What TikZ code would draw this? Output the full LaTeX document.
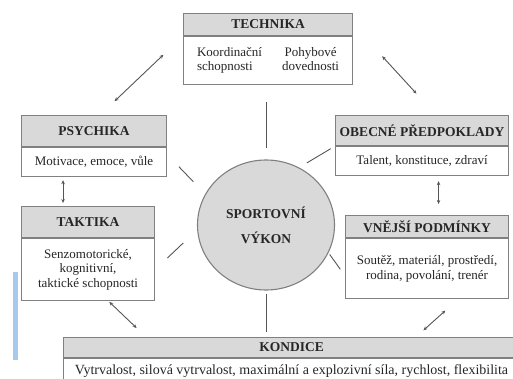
\documentclass[tikz,border=0pt]{standalone}
\usepackage{fontspec}
\setmainfont{Liberation Serif}
\usepackage{tikz}
\usetikzlibrary{shapes.geometric, arrows.meta, positioning}
\definecolor{FrameGray}{HTML}{808080}
\definecolor{HeadGray}{HTML}{D9D9D9}
\definecolor{LineGray}{HTML}{555555}
\definecolor{InkGray}{HTML}{262626}
\definecolor{MarkBlue}{HTML}{A9C8EE}

\begin{document}
\begin{tikzpicture}[
    x=1pt, y=-1pt,
    head/.style={rectangle, draw=FrameGray, line width=1.1pt, fill=HeadGray, inner sep=0pt,
                 font=\fontsize{13.5}{14.5}\selectfont\bfseries, text=InkGray},
    body/.style={rectangle, draw=FrameGray, line width=1.1pt, fill=white, inner sep=0pt,
                 font=\fontsize{13}{14.5}\selectfont, text=InkGray, align=center},
    hub/.style={ellipse, draw=FrameGray, line width=1.1pt, fill=HeadGray, inner sep=0pt,
                minimum width=137pt, minimum height=130pt, text=InkGray, align=center,
                font=\fontsize{13.5}{25}\selectfont\bfseries},
    link/.style={LineGray, line width=0.9pt},
    pair/.style={LineGray, line width=0.9pt,
                 {Stealth[length=4pt,width=3.5pt]}-{Stealth[length=4pt,width=3.5pt]}}
]
    \useasboundingbox (0,0) rectangle (513,379);
    \fill[MarkBlue] (13,272) rectangle (18,360);

    % Technika
    \node[head, anchor=north west, minimum width=169pt, minimum height=22pt] (techh) at (183,13) {TECHNIKA};
    \node[body, below=0pt of techh, minimum width=169pt, minimum height=48pt] (techb) {%
        \begin{tabular}{@{}l@{\hspace{20pt}}c@{}}
        Koordinační & Pohybové\\
        schopnosti & dovednosti
        \end{tabular}};

    % Psychika
    \node[head, anchor=north west, minimum width=145pt, minimum height=31pt] (psychh) at (21,115) {PSYCHIKA};
    \node[body, below=0pt of psychh, minimum width=145pt, minimum height=29pt] (psychb) {Motivace, emoce, vůle};

    % Obecne predpoklady
    \node[head, anchor=north west, minimum width=173pt, minimum height=30pt] (obech) at (335,115) {OBECNÉ PŘEDPOKLADY};
    \node[body, below=0pt of obech, minimum width=173pt, minimum height=29pt] (obecb) {Talent, konstituce, zdraví};

    % Taktika
    \node[head, anchor=north west, minimum width=133pt, minimum height=31pt] (takth) at (21,206) {TAKTIKA};
    \node[body, below=0pt of takth, minimum width=133pt, minimum height=62pt] (taktb) {Senzomotorické,\\ kognitivní,\\ taktické schopnosti};

    % Vnejsi podminky
    \node[head, anchor=north west, minimum width=163pt, minimum height=22pt] (vnejh) at (345,215) {VNĚJŠÍ PODMÍNKY};
    \node[body, below=0pt of vnejh, minimum width=163pt, minimum height=60pt] (vnejb) {Soutěž, materiál, prostředí,\\ rodina, povolání, trenér};

    % Kondice
    \node[head, anchor=north west, minimum width=456pt, minimum height=20pt] (kondh) at (63,337) {KONDICE};
    \node[body, below=0pt of kondh, minimum width=456pt, minimum height=25pt, font=\fontsize{14}{15}\selectfont] (kondb) {Vytrvalost, silová vytrvalost, maximální a explozivní síla, rychlost, flexibilita};

    % Sportovni vykon
    \node[hub] (vykon) at (266,225) {SPORTOVNÍ\\ VÝKON};

    % Lines to the centre
    \draw[link, shorten <=17pt, shorten >=11pt] (vykon.north |- techb.south) -- (vykon.north);
    \draw[link, shorten <=9pt, shorten >=5pt] (vykon.60) -- (obech.south west);
    \draw[link, shorten <=17pt, shorten >=17pt] (psychb.6) -- (vykon.153);
    \draw[link, shorten <=17pt, shorten >=19pt] (taktb.east) -- (vykon.184);
    \draw[link, shorten <=2pt, shorten >=8pt] (vykon.-24) -- (vnejb.185);
    \draw[link, shorten <=3pt, shorten >=5pt] (vykon.south) -- (vykon.south |- kondh.north);

    % Arrows
    \draw[pair, shorten <=20pt, shorten >=27pt] ([xshift=6pt]psychh.north) -- (techh.south west);
    \draw[pair, shorten <=43pt, shorten >=29pt] (techh.east) -- ([xshift=14pt]obech.north);
    \draw[pair, shorten <=3pt, shorten >=3pt] ([xshift=-31pt]psychb.south) -- ([xshift=-25pt]takth.north);
    \draw[pair, shorten <=5pt, shorten >=11pt] ([xshift=16.5pt]obecb.south) -- ([xshift=11.5pt]vnejh.north);
    \draw[pair, shorten <=1pt, shorten >=13pt] ([xshift=20.5pt]taktb.south) -- ([xshift=83pt]kondh.north west);
    \draw[pair, shorten <=17pt, shorten >=10pt] ([xshift=31pt]vnejb.south) -- ([xshift=353pt]kondh.north west);
\end{tikzpicture}
\end{document}
